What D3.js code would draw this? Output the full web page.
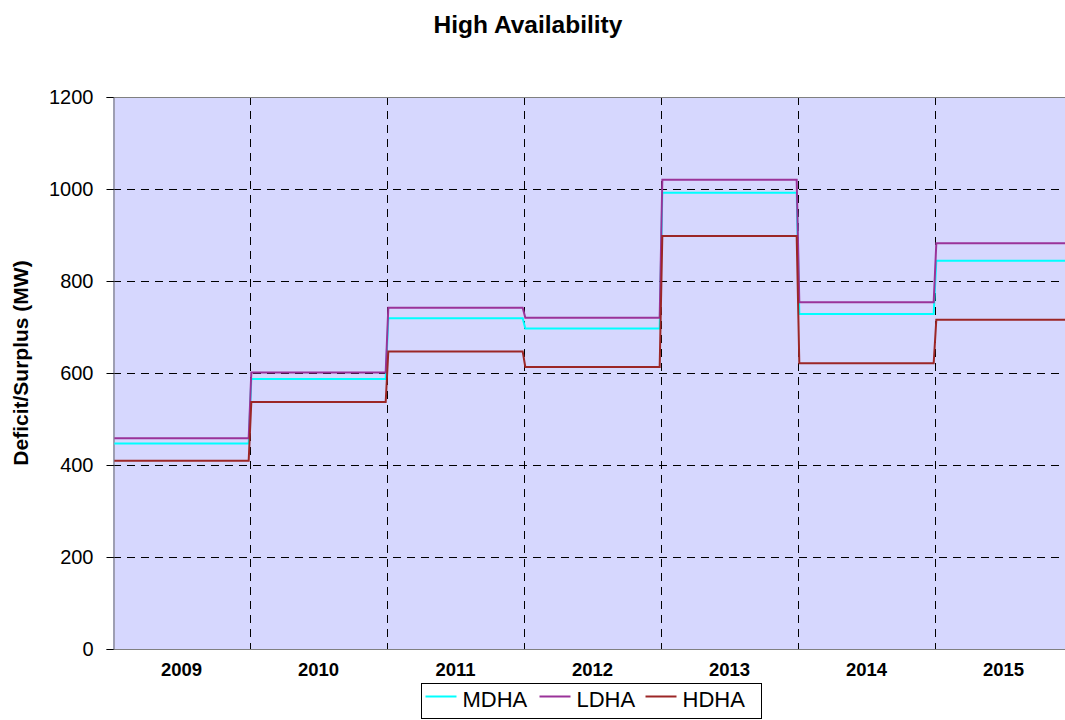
<!DOCTYPE html>
<html>
<head>
<meta charset="utf-8">
<script src="https://cdn.jsdelivr.net/npm/d3@7"></script>
<style>
  html, body { margin: 0; padding: 0; background: #fff; }
  svg { display: block; font-family: "Liberation Sans", Arial, sans-serif; }
</style>
</head>
<body>
<svg id="chart" width="1065" height="720"></svg>
<script>
// Yearly capacity balance (MW) under high availability
const years = ["2009", "2010", "2011", "2012", "2013", "2014", "2015"];
const mdha = [447, 587, 719, 697, 992, 728, 844];
const ldha = [458, 601, 742, 720, 1020, 754, 882];
const hdha = [409, 537, 647, 613, 898, 621, 716];
const yTicks = [0, 200, 400, 600, 800, 1000, 1200];

const seriesDefs = [
  { name: "MDHA", values: mdha, color: "#00FFFF" },
  { name: "LDHA", values: ldha, color: "#9A3399" },
  { name: "HDHA", values: hdha, color: "#9C2626" }
];

const svg = d3.select("#chart");
const FONT = "'Liberation Sans', Arial, sans-serif";
const margin = { left: 113, top: 97, bottomY: 649 };
const bandW = 137;
const plotW = bandW * years.length;

const x = d3.scaleBand().domain(years).range([margin.left, margin.left + plotW]).paddingInner(0).paddingOuter(0);
const y = d3.scaleLinear().domain([0, 1200]).range([margin.bottomY, margin.top]);

// plot background
svg.append("rect")
  .attr("x", margin.left).attr("y", margin.top)
  .attr("width", plotW).attr("height", margin.bottomY - margin.top)
  .attr("fill", "#D6D7FE");

// horizontal grid
svg.append("g").selectAll("line").data(yTicks.filter(d => d > 0 && d < 1200)).join("line")
  .attr("x1", margin.left).attr("x2", margin.left + plotW)
  .attr("y1", d => Math.round(y(d)) + 0.5).attr("y2", d => Math.round(y(d)) + 0.5)
  .attr("stroke", "#000").attr("stroke-width", 1).attr("stroke-dasharray", "8,6");

// vertical grid at year boundaries
svg.append("g").selectAll("line").data(years.slice(1)).join("line")
  .attr("x1", d => Math.round(x(d)) + 0.5).attr("x2", d => Math.round(x(d)) + 0.5)
  .attr("y1", margin.top).attr("y2", margin.bottomY)
  .attr("stroke", "#000").attr("stroke-width", 1).attr("stroke-dasharray", "8,6");

// plot frame
svg.append("line").attr("x1", margin.left).attr("x2", margin.left + plotW)
  .attr("y1", margin.top + 0.5).attr("y2", margin.top + 0.5).attr("stroke", "#808080");
svg.append("line").attr("x1", margin.left).attr("x2", margin.left + plotW)
  .attr("y1", margin.bottomY + 0.5).attr("y2", margin.bottomY + 0.5).attr("stroke", "#808080");

// y axis
const yAxis = d3.axisLeft(y).tickValues(yTicks).tickFormat(d3.format("d")).tickSize(7).tickPadding(13);
const gy = svg.append("g").attr("transform", `translate(${margin.left + 0.5},0)`).call(yAxis);
gy.select(".domain").attr("stroke", "#666");
gy.selectAll(".tick line").attr("stroke", "#000");
gy.selectAll(".tick text").attr("font-size", 20).attr("fill", "#000").attr("font-family", FONT);

// x axis labels
const gx = svg.append("g").attr("transform", `translate(0,${margin.bottomY})`)
  .call(d3.axisBottom(x).tickSize(0).tickPadding(14));
gx.select(".domain").remove();
gx.selectAll(".tick text").attr("font-size", 18.5).attr("font-weight", "bold").attr("fill", "#000")
  .attr("font-family", FONT);

// step lines: weekly points within each year, flat over the year
const weeks = 52;
const lineGen = d3.line().x(d => d[0]).y(d => d[1]);
svg.append("clipPath").attr("id", "plotclip").append("rect")
  .attr("x", margin.left).attr("y", margin.top - 5).attr("width", plotW).attr("height", margin.bottomY - margin.top + 10);

const gLines = svg.append("g").attr("clip-path", "url(#plotclip)");
seriesDefs.forEach(s => {
  const pts = [];
  years.forEach((yr, i) => {
    const x0 = x(yr);
    pts.push([x0 + x.bandwidth() * (0.5 / weeks), y(s.values[i])]);
    pts.push([x0 + x.bandwidth() * ((weeks - 0.5) / weeks), y(s.values[i])]);
  });
  gLines.append("path").attr("d", lineGen(pts))
    .attr("fill", "none").attr("stroke", s.color).attr("stroke-width", 2);
});

// title
svg.append("text").attr("x", 528).attr("y", 33).attr("text-anchor", "middle")
  .attr("font-size", 24.5).attr("font-weight", "bold").attr("font-family", FONT)
  .text("High Availability");

// y axis title
svg.append("text").attr("transform", `translate(28,363) rotate(-90)`)
  .attr("text-anchor", "middle").attr("font-size", 21).attr("font-weight", "bold")
  .attr("font-family", FONT)
  .text("Deficit/Surplus (MW)");

// legend
const lg = svg.append("g").attr("transform", "translate(421.5,683.5)");
lg.append("rect").attr("width", 340).attr("height", 35).attr("fill", "#fff").attr("stroke", "#000");
const itemX = [4, 118, 224];
seriesDefs.forEach((s, i) => {
  const g = lg.append("g").attr("transform", `translate(${itemX[i]},13)`);
  g.append("line").attr("x1", 0).attr("x2", 31).attr("stroke", s.color).attr("stroke-width", 2);
  g.append("text").attr("x", 37).attr("y", 10).attr("font-size", 22).attr("font-family", FONT).text(s.name);
});
</script>
</body>
</html>
